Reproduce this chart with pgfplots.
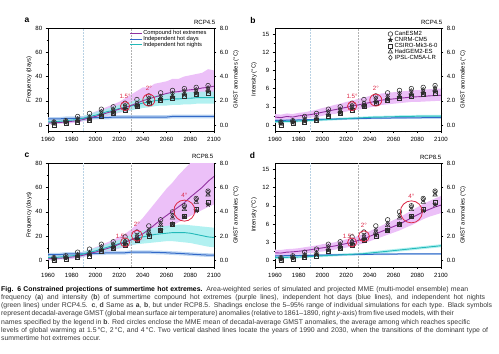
\documentclass[border=0pt]{standalone}
\usepackage{fontspec}
\setmainfont{Liberation Sans}
\usepackage{pgfplots}
\pgfplotsset{compat=1.18}
\usepackage{pgfplotstable}
\usepgfplotslibrary{fillbetween}
\usetikzlibrary{plotmarks}

\definecolor{pline}{RGB}{145,50,160}
\definecolor{pshade}{RGB}{236,192,248}
\definecolor{bline}{RGB}{50,105,200}
\definecolor{bshade}{RGB}{175,205,240}
\definecolor{gline}{RGB}{35,185,185}
\definecolor{gshade}{RGB}{165,238,238}
\definecolor{cred}{RGB}{220,40,70}
\definecolor{vline}{RGB}{185,210,228}
\definecolor{symc}{RGB}{45,45,45}

\newcommand{\tlfont}{\fontsize{6.1}{6.3}\selectfont}
\newcommand{\lbfont}{\fontsize{5.9}{6.1}\selectfont}
\newcommand{\rfont}{\fontsize{6.2}{6.5}\selectfont}
\newcommand{\legfonta}{\fontsize{5.8}{5.8}\selectfont}
\newcommand{\legfontb}{\fontsize{6.0}{6.0}\selectfont}
\newcommand{\capfont}{\fontsize{6.9}{8}\selectfont}

\pgfdeclareplotmark{fstar}{%
 \pgfpathmoveto{\pgfqpoint{0pt}{\pgfplotmarksize}}%
 \pgfpathlineto{\pgfqpoint{-0.2351\pgfplotmarksize}{0.3236\pgfplotmarksize}}%
 \pgfpathlineto{\pgfqpoint{-0.9511\pgfplotmarksize}{0.3090\pgfplotmarksize}}%
 \pgfpathlineto{\pgfqpoint{-0.3804\pgfplotmarksize}{-0.1236\pgfplotmarksize}}%
 \pgfpathlineto{\pgfqpoint{-0.5878\pgfplotmarksize}{-0.8090\pgfplotmarksize}}%
 \pgfpathlineto{\pgfqpoint{0pt}{-0.4\pgfplotmarksize}}%
 \pgfpathlineto{\pgfqpoint{0.5878\pgfplotmarksize}{-0.8090\pgfplotmarksize}}%
 \pgfpathlineto{\pgfqpoint{0.3804\pgfplotmarksize}{-0.1236\pgfplotmarksize}}%
 \pgfpathlineto{\pgfqpoint{0.9511\pgfplotmarksize}{0.3090\pgfplotmarksize}}%
 \pgfpathlineto{\pgfqpoint{0.2351\pgfplotmarksize}{0.3236\pgfplotmarksize}}%
 \pgfpathclose
 \pgfusepathqfillstroke
}

\pgfplotstableread{
yr P Plo Phi G Glo Ghi B Blo Bhi
1960 1.5 0.5 3.5 2.5 1 4 5 3.5 6.5
1965 2 0.5 4 2.5 1 4 5 3.5 6.5
1970 2 1 4.5 3 1.5 4.5 5 3.5 6.5
1975 2.5 1 5 3.5 2 5 5.5 4 7
1980 3 1.5 5.5 4 2.5 5.5 5.5 4 7
1985 3.5 2 6.5 4.5 3 6 5.5 4 7
1990 4.5 3 7.5 5.5 3.5 7.5 5.5 4 7
1995 6 4 9 7 5 9 6 4.5 7.5
2000 7 5 11 8 5.5 10.5 6 4.5 7.5
2005 8.5 6 13 9.5 7 12 6 4.5 7.5
2010 10 7.5 15 11 8.5 13.5 6 4.5 7.5
2015 11.5 8.5 17 12 9 15 6.5 5 8
2020 13 10 19 13.5 10.5 16.5 6.5 5 8
2025 14.5 11 22 14.5 11 18 6.5 5 8
2030 16 12 25 15.5 12 19 6.5 5 8
2035 18 14 28 17 13 21 6.5 5 8
2040 20 15.5 31 18 14 22 6.5 5 8
2045 21.5 16.5 31 19 14.5 23.5 6.5 5 8
2050 23 17.5 34 20 15.5 24.5 6.5 5 8
2055 24.5 18.5 35 20.5 16 25 6.5 5 8
2060 26 19.5 36 21 16 26 6.5 5 8
2065 27 20 38 21.5 16.5 26.5 7 5.5 8.5
2070 27.5 20.5 38 21.5 16.5 26.5 7 5.5 8.5
2075 28.5 21 40 22 17 27 7 5.5 8.5
2080 29 21.5 41 22 17 27 7 5.5 8.5
2085 29.5 22 42 22.5 17.5 27.5 7 5.5 8.5
2090 30.5 22 43 22.5 17.5 27.5 7 5.5 8.5
2095 31 22.5 46 22.5 17.5 27.5 7 5.5 8.5
2100 32 23 45 22.5 17.5 27.5 7 5.5 8.5
}\taba

\pgfplotstableread{
yr P Plo Phi G Glo Ghi B Blo Bhi
1960 1.3 0.8 1.8 0.55 0.35 0.75 0.75 0.6 0.9
1965 1.2 0.7 1.7 0.55 0.35 0.75 0.75 0.6 0.9
1970 1.4 0.9 1.9 0.6 0.4 0.8 0.78 0.63 0.93
1975 1.3 0.8 1.8 0.6 0.4 0.8 0.8 0.65 0.95
1980 1.5 1.0 2.0 0.65 0.45 0.85 0.82 0.67 0.97
1985 1.6 1.1 2.1 0.7 0.5 0.9 0.85 0.7 1.0
1990 1.7 1.2 2.3 0.75 0.55 0.95 0.87 0.72 1.02
1995 1.9 1.3 2.5 0.8 0.6 1.0 0.9 0.75 1.05
2000 2.1 1.5 2.8 0.85 0.65 1.05 0.92 0.77 1.07
2005 2.3 1.7 3.0 0.9 0.7 1.1 0.95 0.8 1.1
2010 2.5 1.8 3.3 0.95 0.75 1.15 0.97 0.82 1.12
2015 2.7 2.0 3.5 1.0 0.8 1.2 1.0 0.85 1.15
2020 2.9 2.2 3.8 1.05 0.85 1.25 1.02 0.87 1.17
2025 3.1 2.4 4.0 1.1 0.9 1.3 1.04 0.89 1.19
2030 3.3 2.5 4.3 1.15 0.95 1.35 1.06 0.91 1.21
2035 3.5 2.7 4.5 1.2 1.0 1.4 1.08 0.93 1.23
2040 3.7 2.9 4.8 1.25 1.05 1.45 1.1 0.95 1.25
2045 3.9 3.1 5.0 1.3 1.1 1.5 1.12 0.97 1.27
2050 4.1 3.3 5.2 1.3 1.1 1.5 1.13 0.98 1.28
2055 4.2 3.4 5.3 1.35 1.15 1.55 1.14 0.99 1.29
2060 4.3 3.5 5.4 1.35 1.15 1.55 1.15 1.0 1.3
2065 4.4 3.6 5.5 1.4 1.2 1.6 1.16 1.01 1.31
2070 4.5 3.7 5.6 1.4 1.2 1.6 1.17 1.02 1.32
2075 4.6 3.8 5.7 1.4 1.2 1.6 1.18 1.03 1.33
2080 4.65 3.8 5.75 1.45 1.25 1.65 1.18 1.03 1.33
2085 4.7 3.85 5.8 1.45 1.25 1.65 1.19 1.04 1.34
2090 4.8 3.9 5.9 1.45 1.25 1.65 1.19 1.04 1.34
2095 4.85 3.95 5.95 1.45 1.25 1.65 1.2 1.05 1.35
2100 4.9 4.0 6.0 1.45 1.25 1.65 1.2 1.05 1.35
}\tabb

\pgfplotstableread{
yr P Plo Phi G Glo Ghi B Blo Bhi
1960 1.5 0.5 3.5 2.5 1 4 5 3.5 6.5
1965 2 0.5 4 2.5 1 4 5 3.5 6.5
1970 2 1 4.5 3 1.5 4.5 5 3.5 6.5
1975 2.5 1 5 3.5 2 5 5.5 4 7
1980 3 1.5 5.5 4 2.5 5.5 5.5 4 7
1985 3.5 2 6.5 4.5 3 6 5.5 4 7
1990 4.5 3 7.5 5.5 3.5 7.5 5.5 4 7
1995 6 4 9 7 5 9 6 4.5 7.5
2000 7 5 11 8 5.5 10.5 6 4.5 7.5
2005 8.5 6 13 9.5 7 12 6 4.5 7.5
2010 10 7.5 15 11 8.5 13.5 6.5 5 8
2015 11.5 8.5 17 12.5 9.5 15.5 6.5 5 8
2020 13.5 10 19.5 14 10.5 17 6.5 5 8
2025 15 11 22 15.5 11.5 19 6.5 5 8
2030 17 12.5 25.5 17 12.5 21 7 5.5 8.5
2035 19.5 14 30 18.5 13.5 23 7 5.5 8.5
2040 22 16 35 19.5 14 24.5 7 5.5 8.5
2045 25.5 18 41 20.5 14.5 26 7 5.5 8.5
2050 29.5 21 47 21.5 15 27 6.8 5.3 8.3
2055 33.5 24 53 22 15.5 28 6.7 5.2 8.2
2060 37 26.5 59 22.5 16 28.5 6.5 5 8
2065 40.5 29 64 23 16 29 6.2 4.7 7.7
2070 44 31.5 70 23 15.5 29.5 6 4.5 7.5
2075 47.5 34 75 23 15 29.5 5.7 4.2 7.2
2080 52 36.5 80 22.5 14.5 29 5.4 3.9 6.9
2085 56 39 84 21.5 13.5 28.5 5.1 3.6 6.6
2090 60 41.5 88 20.5 12.5 28 4.8 3.3 6.3
2095 65 44 92 19.5 11.5 27.5 4.6 3.1 6.1
2100 69 46 96 19 11 27 4.5 3 6
}\tabc

\pgfplotstableread{
yr P Plo Phi G Glo Ghi B Blo Bhi
1960 1.3 0.8 1.8 0.5 0.3 0.7 0.8 0.65 0.95
1965 1.25 0.75 1.75 0.52 0.32 0.72 0.8 0.65 0.95
1970 1.4 0.9 1.9 0.55 0.35 0.75 0.82 0.67 0.97
1975 1.45 0.95 1.95 0.58 0.38 0.78 0.84 0.69 0.99
1980 1.55 1.05 2.05 0.6 0.4 0.8 0.85 0.7 1.0
1985 1.65 1.15 2.2 0.65 0.45 0.85 0.87 0.72 1.02
1990 1.8 1.25 2.35 0.7 0.5 0.9 0.88 0.73 1.03
1995 1.95 1.4 2.5 0.75 0.55 0.95 0.9 0.75 1.05
2000 2.1 1.5 2.7 0.8 0.6 1.0 0.92 0.77 1.07
2005 2.25 1.65 2.85 0.85 0.65 1.05 0.94 0.79 1.09
2010 2.4 1.8 3.0 0.9 0.7 1.1 0.96 0.81 1.11
2015 2.6 1.95 3.25 0.95 0.75 1.15 0.98 0.83 1.13
2020 2.8 2.15 3.5 1.0 0.8 1.2 1.0 0.85 1.15
2025 3.0 2.3 3.7 1.05 0.85 1.25 1.01 0.86 1.16
2030 3.3 2.6 4.05 1.1 0.9 1.3 1.02 0.87 1.17
2035 3.6 2.85 4.4 1.15 0.95 1.35 1.04 0.89 1.19
2040 4.0 3.2 4.85 1.25 1.0 1.5 1.05 0.9 1.2
2045 4.4 3.55 5.3 1.35 1.1 1.6 1.06 0.91 1.21
2050 4.8 3.9 5.75 1.45 1.2 1.7 1.07 0.92 1.22
2055 5.2 4.25 6.2 1.55 1.3 1.8 1.08 0.93 1.23
2060 5.6 4.6 6.65 1.65 1.4 1.9 1.09 0.94 1.24
2065 6.0 4.95 7.1 1.75 1.5 2.0 1.1 0.95 1.25
2070 6.5 5.4 7.65 1.85 1.6 2.1 1.1 0.95 1.25
2075 7.0 5.8 8.2 1.95 1.7 2.2 1.1 0.95 1.25
2080 7.5 6.3 8.75 2.05 1.8 2.3 1.1 0.95 1.25
2085 8.0 6.8 9.3 2.15 1.9 2.4 1.1 0.95 1.25
2090 8.4 7.2 9.75 2.25 2.0 2.5 1.1 0.95 1.25
2095 8.8 7.5 10.2 2.35 2.1 2.6 1.1 0.95 1.25
2100 9.1 7.8 10.6 2.45 2.2 2.7 1.1 0.95 1.25
}\tabd

% decadal-average GMST anomalies (deg C) of five models
\pgfplotstableread{
yr can csiro cnrm had ipsl
1965 0.25 0.00 0.10 0.15 0.20
1975 0.35 0.15 0.20 0.25 0.30
1985 0.70 0.25 0.30 0.40 0.50
1995 0.95 0.35 0.45 0.50 0.65
2005 1.30 0.75 0.80 0.95 1.10
2015 1.50 1.00 1.00 1.15 1.30
2025 1.80 1.20 1.30 1.45 1.60
2035 2.10 1.50 1.55 1.60 1.80
2045 2.40 1.75 1.85 2.00 2.20
2055 2.65 2.00 2.10 2.20 2.35
2065 2.85 2.20 2.30 2.40 2.60
2075 3.00 2.35 2.50 2.60 2.80
2085 3.10 2.50 2.60 2.75 2.90
2095 3.25 2.60 2.75 2.90 3.05
}\gmsta

\pgfplotstableread{
yr can csiro cnrm had ipsl
1965 0.25 0.00 0.10 0.15 0.20
1975 0.40 0.15 0.20 0.25 0.30
1985 0.70 0.25 0.35 0.40 0.50
1995 0.95 0.35 0.50 0.55 0.65
2005 1.35 0.80 0.85 1.00 1.15
2015 1.55 1.00 1.05 1.20 1.35
2025 1.95 1.30 1.35 1.50 1.60
2035 2.35 1.65 1.70 1.90 2.05
2045 2.85 2.00 2.10 2.35 2.50
2055 3.35 2.50 2.50 2.90 3.05
2065 4.00 2.95 3.00 3.50 3.70
2075 4.50 3.60 3.60 4.20 4.40
2085 5.10 4.20 4.10 4.80 5.00
2095 5.70 4.80 4.60 5.40 5.60
}\gmstb

\newcommand{\bands}[3]{% table, ymin, ymax
 \addplot[vline, densely dotted, line width=0.5bp, forget plot] coordinates {(1990,#2) (1990,#3)};
 \addplot[black!30, densely dotted, line width=0.5bp, forget plot] coordinates {(2030,#2) (2030,#3)};
 \addplot[name path=pu, draw=none, forget plot] table[x=yr,y=Phi]{#1};
 \addplot[name path=pl, draw=none, forget plot] table[x=yr,y=Plo]{#1};
 \addplot[fill=pshade, draw=none, forget plot] fill between[of=pu and pl];
 \addplot[name path=gu, draw=none, forget plot] table[x=yr,y=Ghi]{#1};
 \addplot[name path=gl, draw=none, forget plot] table[x=yr,y=Glo]{#1};
 \addplot[fill=gshade, draw=none, fill opacity=0.85, forget plot] fill between[of=gu and gl];
 \addplot[name path=bu, draw=none, forget plot] table[x=yr,y=Bhi]{#1};
 \addplot[name path=bl, draw=none, forget plot] table[x=yr,y=Blo]{#1};
 \addplot[fill=bshade, draw=none, fill opacity=0.8, forget plot] fill between[of=bu and bl];
 \addplot[bline, line width=1bp, forget plot] table[x=yr,y=B]{#1};
 \addplot[gline, line width=0.9bp, forget plot] table[x=yr,y=G]{#1};
 \addplot[pline, line width=0.9bp, forget plot] table[x=yr,y=P]{#1};
}

\newcommand{\symbols}[1]{%
 \addplot[only marks, mark=o, mark size=2.3bp, symc, mark options={line width=0.55bp}] table[x=yr,y=can]{#1};
 \addplot[only marks, mark=fstar, mark size=2.5bp, symc, fill=symc, mark options={line width=0.3bp}] table[x=yr,y=cnrm]{#1};
 \addplot[only marks, mark=square, mark size=2bp, symc, mark options={line width=0.55bp}] table[x=yr,y=csiro]{#1};
 \addplot[only marks, mark=triangle, mark size=2.5bp, symc, mark options={line width=0.55bp}] table[x=yr,y=had]{#1};
 \addplot[only marks, mark=diamond, mark size=2.4bp, symc, mark options={line width=0.55bp}] table[x=yr,y=ipsl]{#1};
}

\pgfplotsset{
 base/.style={scale only axis, width=166bp, xmin=1960, xmax=2100,
   axis line style={-, line width=0.5bp, black},
   tick style={line width=0.4bp, black},
   major tick length=2.3bp, minor tick length=1.3bp, tick align=outside,
   ticklabel style={font=\tlfont, text=black},
   /pgf/number format/1000 sep={}, /pgf/number format/assume math mode=true,
   label style={font=\lbfont}},
 leftax/.style={base, xtick={1960,1980,...,2100}, minor x tick num=1,
   xtick pos=bottom, ytick pos=left, minor y tick num=1,
   xticklabel style={yshift=-0.3bp}},
 rightax/.style={base, axis x line=none, axis y line*=right, ymin=-0.5, ymax=8,
   ytick={0,2,4,6,8}, yticklabels={0.0,2.0,4.0,6.0,8.0}, minor y tick num=1,
   ylabel={GMST anomalies (°C)},
   ylabel style={at={(axis description cs:1.1325,0.5)}, anchor=center}},
}

\begin{document}
\begin{tikzpicture}

% ---------------- panel a
\begin{axis}[leftax, at={(48bp,-28bp)}, anchor=north west, height=103bp,
  ymin=-5, ymax=80, ytick={0,20,...,80}, ylabel={Frequency (days)},
  ylabel style={at={(axis description cs:-0.1145,0.5)}, anchor=center},
  legend style={at={(rel axis cs:0.958,0.977)}, anchor=north east, draw=none, fill=none,
    font=\legfonta, inner sep=0pt, row sep=0pt,
    nodes={inner sep=0.3bp, text height=4.1bp, text depth=1.0bp}},
  legend cell align=left,
  legend image code/.code={\draw[#1] (0bp,0bp) -- (12bp,0bp);}]
 \bands{\taba}{-5}{80}
 \addlegendimage{pline, line width=0.9bp}\addlegendentry{Compound hot extremes}
 \addlegendimage{bline, line width=1bp}\addlegendentry{Independent hot days}
 \addlegendimage{gline, line width=0.9bp}\addlegendentry{Independent hot nights}
\end{axis}
\begin{axis}[rightax, at={(48bp,-28bp)}, anchor=north west, height=103bp]
 \symbols{\gmsta}
 \addplot[only marks, mark=o, mark size=4.6bp, cred, mark options={line width=0.8bp}, forget plot] coordinates {(2025,1.55)};
 \addplot[only marks, mark=o, mark size=6bp, cred, mark options={line width=0.8bp}, forget plot] coordinates {(2045,2.05)};
 \node[cred, font=\rfont, anchor=south, yshift=7.6bp, inner sep=0pt] at (axis cs:2025,1.55) {1.5°};
 \node[cred, font=\rfont, anchor=south, yshift=9bp, inner sep=0pt] at (axis cs:2045,2.05) {2°};
\end{axis}

% ---------------- panel b
\begin{axis}[leftax, at={(275bp,-28bp)}, anchor=north west, height=103bp,
  ymin=-1, ymax=16, ytick={0,3,...,15}, ylabel={Intensity (°C)},
  ylabel style={at={(axis description cs:-0.1265,0.5)}, anchor=center}]
 \bands{\tabb}{-1}{16}
\end{axis}
\begin{axis}[rightax, at={(275bp,-28bp)}, anchor=north west, height=103bp,
  legend style={at={(rel axis cs:0.982,0.972)}, anchor=north east, draw=none, fill=none,
    font=\legfontb, inner sep=0pt, row sep=0pt,
    nodes={inner sep=0.3bp, text height=4.3bp, text depth=1.0bp},
    /tikz/every odd column/.style={column sep=1.6bp}},
  legend cell align=left,
  legend image code/.code={\draw[#1] plot coordinates {(2.2bp,0bp)};}]
 \symbols{\gmsta}
 \legend{CanESM2,CNRM-CM5,CSIRO-Mk3-6-0,HadGEM2-ES,IPSL-CM5A-LR}
 \addplot[only marks, mark=o, mark size=4.6bp, cred, mark options={line width=0.8bp}, forget plot] coordinates {(2025,1.55)};
 \addplot[only marks, mark=o, mark size=6bp, cred, mark options={line width=0.8bp}, forget plot] coordinates {(2045,2.05)};
 \node[cred, font=\rfont, anchor=south, yshift=7.6bp, inner sep=0pt] at (axis cs:2025,1.55) {1.5°};
 \node[cred, font=\rfont, anchor=south, yshift=9bp, inner sep=0pt] at (axis cs:2045,2.05) {2°};
\end{axis}

% ---------------- panel c
\begin{axis}[leftax, at={(48bp,-163bp)}, anchor=north west, height=103.8bp,
  ymin=-5, ymax=80, ytick={0,20,...,80}, ylabel={Frequency (days)},
  ylabel style={at={(axis description cs:-0.1145,0.5)}, anchor=center}]
 \bands{\tabc}{-5}{80}
\end{axis}
\begin{axis}[rightax, at={(48bp,-163bp)}, anchor=north west, height=103.8bp]
 \symbols{\gmstb}
 \addplot[only marks, mark=o, mark size=4.5bp, cred, mark options={line width=0.8bp}, forget plot] coordinates {(2025,1.5)};
 \addplot[only marks, mark=o, mark size=5.5bp, cred, mark options={line width=0.8bp}, forget plot] coordinates {(2035,2.05)};
 \addplot[only marks, mark=o, mark size=10.5bp, cred, mark options={line width=0.8bp}, forget plot] coordinates {(2075,4.1)};
 \node[cred, font=\rfont, anchor=south east, xshift=2bp, yshift=4bp, inner sep=0pt] at (axis cs:2025,1.5) {1.5°};
 \node[cred, font=\rfont, anchor=south, yshift=8.5bp, inner sep=0pt] at (axis cs:2035,2.05) {2°};
 \node[cred, font=\rfont, anchor=south, yshift=13bp, inner sep=0pt] at (axis cs:2075,4.1) {4°};
\end{axis}

% ---------------- panel d
\begin{axis}[leftax, at={(275bp,-163bp)}, anchor=north west, height=103.8bp,
  ymin=-1, ymax=16, ytick={0,3,...,15}, ylabel={Intensity (°C)},
  ylabel style={at={(axis description cs:-0.1265,0.5)}, anchor=center}]
 \bands{\tabd}{-1}{16}
\end{axis}
\begin{axis}[rightax, at={(275bp,-163bp)}, anchor=north west, height=103.8bp]
 \symbols{\gmstb}
 \addplot[only marks, mark=o, mark size=4.5bp, cred, mark options={line width=0.8bp}, forget plot] coordinates {(2025,1.5)};
 \addplot[only marks, mark=o, mark size=5.5bp, cred, mark options={line width=0.8bp}, forget plot] coordinates {(2035,2.0)};
 \addplot[only marks, mark=o, mark size=11bp, cred, mark options={line width=0.8bp}, forget plot] coordinates {(2075,4.0)};
 \node[cred, font=\rfont, anchor=south east, xshift=2bp, yshift=4bp, inner sep=0pt] at (axis cs:2025,1.5) {1.5°};
 \node[cred, font=\rfont, anchor=south, yshift=8.5bp, inner sep=0pt] at (axis cs:2035,2.0) {2°};
 \node[cred, font=\rfont, anchor=south, yshift=13.5bp, inner sep=0pt] at (axis cs:2075,4.0) {4°};
\end{axis}

% panel letters and scenario labels
\node[font=\bfseries\fontsize{8.5}{9}\selectfont, inner sep=0pt] at (27bp,-20bp) {a};
\node[font=\bfseries\fontsize{8.5}{9}\selectfont, inner sep=0pt] at (253bp,-20.5bp) {b};
\node[font=\bfseries\fontsize{8.5}{9}\selectfont, inner sep=0pt] at (27bp,-155bp) {c};
\node[font=\bfseries\fontsize{8.5}{9}\selectfont, inner sep=0pt] at (252.5bp,-155bp) {d};
\node[font=\tlfont, anchor=east, inner sep=0pt] at (215.5bp,-22.7bp) {RCP4.5};
\node[font=\tlfont, anchor=east, inner sep=0pt] at (442.5bp,-22.7bp) {RCP4.5};
\node[font=\tlfont, anchor=east, inner sep=0pt] at (213.5bp,-156bp) {RCP8.5};
\node[font=\tlfont, anchor=east, inner sep=0pt] at (441.5bp,-157bp) {RCP8.5};

% caption
\begin{scope}[every node/.style={anchor=base west, inner sep=0pt, font=\capfont, text=black!78}]
\node at (1bp,-291bp) {\makebox[467bp][s]{\textcolor{black}{\textbf{Fig. 6 Constrained projections of summertime hot extremes.}} Area-weighted series of simulated and projected MME (multi-model ensemble) mean}};
\node at (1bp,-299.3bp) {\makebox[484bp][s]{frequency (\textbf{a}) and intensity (\textbf{b}) of summertime compound hot extremes (purple lines), independent hot days (blue lines), and independent hot nights}};
\node at (1bp,-307.6bp) {\makebox[491bp][s]{(green lines) under RCP4.5. \textbf{c}, \textbf{d} Same as \textbf{a}, \textbf{b}, but under RCP8.5. Shadings enclose the 5--95\% range of individual simulations for each type. Black symbols}};
\node at (1bp,-315.9bp) {\makebox[446bp][s]{represent decadal-average GMST (global mean surface air temperature) anomalies (relative to 1861--1890, right \textit{y}-axis) from five used models, with their}};
\node at (1bp,-324.2bp) {\makebox[469bp][s]{names specified by the legend in \textbf{b}. Red circles enclose the MME mean of decadal-average GMST anomalies, the average among which reaches specific}};
\node at (1bp,-332.5bp) {\makebox[487bp][s]{levels of global warming at 1.5\,°C, 2\,°C, and 4\,°C. Two vertical dashed lines locate the years of 1990 and 2030, when the transitions of the dominant type of}};
\node at (1bp,-340.8bp) {summertime hot extremes occur.};
\end{scope}

\pgfresetboundingbox
\path[use as bounding box] (0,0) rectangle (499bp,-354bp);
\end{tikzpicture}
\end{document}
